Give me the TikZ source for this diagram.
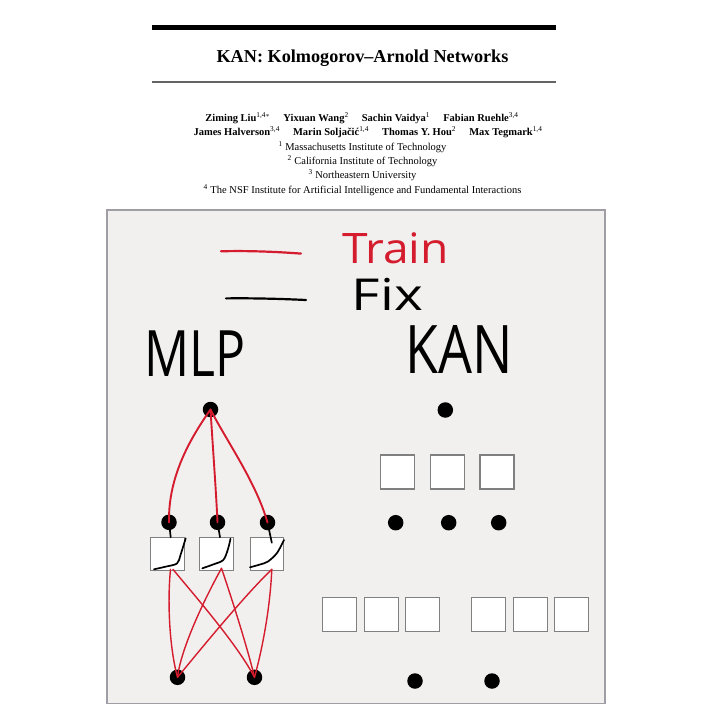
\documentclass[tikz,border=0pt]{standalone}
\usepackage{fontspec}
\setmainfont{Liberation Serif}
\newfontfamily\hand{Open Sans}
\usetikzlibrary{calc}
\definecolor{trainred}{RGB}{212,28,46}
\definecolor{paper}{RGB}{242,240,238}
\definecolor{framegray}{RGB}{158,158,164}
\definecolor{boxgray}{RGB}{128,128,128}
\definecolor{rule2}{RGB}{100,100,100}
\tikzset{
  dot/.style={circle,fill=black,inner sep=0pt,minimum size=15.5pt},
  fbox/.style={rectangle,draw=boxgray,fill=white,line width=1.1pt,inner sep=0pt,minimum size=33.5pt},
  redline/.style={draw=trainred,line width=1.9pt,line cap=round},
  redthin/.style={draw=trainred,line width=1.4pt,line cap=round},
  act/.style={draw=black,line width=1.7pt,line cap=round,line join=round},
  hw/.style={inner sep=0pt,anchor=base,font=\hand},
  hdr/.style={inner sep=0pt,anchor=base},
}
\begin{document}
\begin{tikzpicture}[x=1pt,y=-1pt]
\useasboundingbox (0,0) rectangle (720,720);
\fill[white] (0,0) rectangle (720,720);
% header rules
\fill[black] (152,25) rectangle (556,29.5);
\fill[rule2] (152,80.8) rectangle (556,82.6);
% title and authors
\node[hdr] (title) at (362.5,62) {\fontsize{18.2}{21}\selectfont\bfseries KAN: Kolmogorov--Arnold Networks};
\node[hdr] (auth1) at (362,121.5) {\fontsize{10.5}{12}\selectfont\bfseries Ziming Liu\textsuperscript{\mdseries 1,4$*$}\quad\ Yixuan Wang\textsuperscript{\mdseries 2}\quad\ Sachin Vaidya\textsuperscript{\mdseries 1}\quad\ Fabian Ruehle\textsuperscript{\mdseries 3,4}};
\node[hdr] (auth2) at (368,135.5) {\fontsize{10.5}{12}\selectfont\bfseries James Halverson\textsuperscript{\mdseries 3,4}\quad\ Marin Solja\v{c}i\'{c}\textsuperscript{\mdseries 1,4}\quad\ Thomas Y. Hou\textsuperscript{\mdseries 2}\quad\ Max Tegmark\textsuperscript{\mdseries 1,4}};
\node[hdr] (aff1) at (362.5,150) {\fontsize{10.5}{12}\selectfont\textsuperscript{1} Massachusetts Institute of Technology};
\node[hdr] (aff2) at (362.5,164.3) {\fontsize{10.5}{12}\selectfont\textsuperscript{2} California Institute of Technology};
\node[hdr] (aff3) at (362.5,178.5) {\fontsize{10.5}{12}\selectfont\textsuperscript{3} Northeastern University};
\node[hdr] (aff4) at (362.5,193) {\fontsize{10.5}{12}\selectfont\textsuperscript{4} The NSF Institute for Artificial Intelligence and Fundamental Interactions};
% paper frame
\draw[framegray,line width=1.5pt,fill=paper] (107,210) rectangle (605,703.5);
% legend
\coordinate (rl1) at (221,251.3);
\coordinate (rl2) at (301,253.6);
\draw[redline,line width=2.2pt] (rl1) .. controls (250,250.5) and (280,252) .. (rl2);
\coordinate (bl1) at (226,298.4);
\coordinate (bl2) at (306,300);
\draw[act,line width=2.2pt] (bl1) .. controls (255,298) and (285,299) .. (bl2);
\node[hw,text=trainred,xscale=1.1] (train) at (395.5,263) {\fontsize{42}{42}\selectfont Train};
\node[hw,xscale=1.25] (fix) at (387.5,310) {\fontsize{44}{44}\selectfont Fix};
\node[hw,xscale=0.78] (mlp) at (195,376) {\fontsize{64}{64}\selectfont MLP};
\node[hw,xscale=0.8] (kan) at (459.5,373) {\fontsize{67}{67}\selectfont KAN};
% MLP nodes
\node[dot] (t) at (210.5,409.5) {};
\node[dot] (m1) at (169,522.3) {};
\node[dot] (m2) at (217.5,522.3) {};
\node[dot] (m3) at (267.5,522.5) {};
\node[fbox] (b1) at (167.5,554) {};
\node[fbox] (b2) at (216.5,554) {};
\node[fbox] (b3) at (266.8,554) {};
\node[dot] (n1) at (177.5,677.3) {};
\node[dot] (n2) at (254.5,677.3) {};
% stubs and activation curves
\draw[act] (m1.center) -- ($(b1.north)+(3.2,0.5)$);
\draw[act] (m2.center) -- ($(b2.north)+(3.5,0.5)$);
\draw[act] (m3.center) -- ($(b3.north)+(5,6)$);
\draw[act] plot[smooth,tension=0.5] coordinates {(154,569.3) (165,566.8) (177,563.5) (180.5,555) (185.7,538.3)};
\draw[act] plot[smooth,tension=0.5] coordinates {(202.3,568.3) (213,564.5) (223.3,560) (228,549) (230.5,538.7)};
\draw[act] plot[smooth,tension=0.5] coordinates {(250,567.3) (260,564.5) (268,561.5) (277,553) (284,540)};
% top red edges
\draw[redline] (t.center) .. controls (192,436) and (168,475) .. (m1.center);
\draw[redline] (t.center) .. controls (213,450) and (216,490) .. (m2.center);
\draw[redline] (t.center) .. controls (226,440) and (256,482) .. (m3.center);
% bottom red edges
\draw[redthin] ([xshift=3pt,yshift=2pt]b1.south) .. controls (167,605) and (170,650) .. (n1.center);
\draw[redthin] ([xshift=5.5pt,yshift=2pt]b1.south) .. controls (188,588) and (236,642) .. (n2.center);
\draw[redthin] ([xshift=5pt,yshift=3pt]b2.south) .. controls (205,598) and (181,648) .. (n1.center);
\draw[redthin] ([xshift=5pt,yshift=3pt]b2.south) .. controls (233,602) and (248,650) .. (n2.center);
\draw[redthin] ([xshift=5pt,yshift=2pt]b3.south) .. controls (243,597) and (196,655) .. (n1.center);
\draw[redthin] ([xshift=5pt,yshift=2pt]b3.south) .. controls (270,610) and (262,650) .. (n2.center);
% KAN
\node[dot] (kt) at (445.3,410) {};
\node[fbox,minimum size=34pt] (k1) at (397.7,472) {};
\node[fbox,minimum size=34pt] (k2) at (447.3,472) {};
\node[fbox,minimum size=34pt] (k3) at (497,472) {};
\node[dot] (km1) at (395.7,522.7) {};
\node[dot] (km2) at (448.7,522.7) {};
\node[dot] (km3) at (498.7,522.7) {};
\node[fbox,minimum size=34pt] (q1) at (339.8,614.8) {};
\node[fbox,minimum size=34pt] (q2) at (381.3,614.8) {};
\node[fbox,minimum size=34pt] (q3) at (422.5,614.8) {};
\node[fbox,minimum size=34pt] (q4) at (488.5,614.4) {};
\node[fbox,minimum size=34pt] (q5) at (530.2,614.4) {};
\node[fbox,minimum size=34pt] (q6) at (571.5,614.4) {};
\node[dot] (kb1) at (415,681) {};
\node[dot] (kb2) at (492,681) {};
\end{tikzpicture}
\end{document}
